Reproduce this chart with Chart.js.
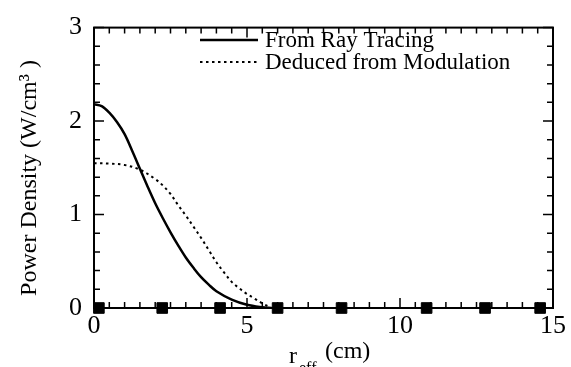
<!DOCTYPE html>
<html>
<head>
<meta charset="utf-8">
<script src="https://cdn.jsdelivr.net/npm/chart.js@4/dist/chart.umd.min.js"></script>
<style>
  body { margin: 0; background: #fff; }
  #wrap { width: 571px; height: 367px; }
</style>
</head>
<body>
<div id="wrap"><canvas id="power_chart" width="571" height="367"></canvas></div>
<script>
// radius (cm) and power density (W/cm^3)
const rRay = [0, 0.25, 0.5, 0.75, 1.0, 1.25, 1.5, 1.75, 2.0, 2.25, 2.5, 2.75, 3.0, 3.25, 3.5, 3.75, 4.0, 4.5, 5.0, 5.5, 5.8];
const pRay = [2.18, 2.16, 2.09, 1.99, 1.86, 1.68, 1.49, 1.30, 1.12, 0.96, 0.81, 0.67, 0.54, 0.43, 0.33, 0.25, 0.18, 0.09, 0.035, 0.008, 0];

const rMod = [0, 0.5, 1.0, 1.5, 2.0, 2.25, 2.5, 2.75, 3.0, 3.25, 3.5, 3.75, 4.0, 4.25, 4.5, 4.75, 5.0, 5.25, 5.5, 5.8];
const pMod = [1.55, 1.545, 1.53, 1.48, 1.38, 1.31, 1.22, 1.10, 0.99, 0.87, 0.75, 0.62, 0.49, 0.38, 0.28, 0.21, 0.15, 0.10, 0.05, 0];

// square markers sitting on the axis
const markerR = [0.16, 2.23, 4.12, 6.0, 8.09, 10.87, 12.78, 14.58];
const markerP = [0, 0, 0, 0, 0, 0, 0, 0];

const xTicks = [0, 5, 10, 15];
const yTicks = [0, 1, 2, 3];

const legendLabels = ['From Ray Tracing', 'Deduced from Modulation'];
const yTitle = 'Power Density (W/cm\u00b3 )';

const serif = "'Liberation Serif', 'Times New Roman', serif";

function toPoints(xs, ys) {
  return xs.map((x, i) => ({ x: x, y: ys[i] }));
}

// inward ticks on all four sides + closed frame
const frameTicks = {
  id: 'frameTicks',
  afterDatasetsDraw(chart) {
    const { ctx, chartArea: a, scales: { x, y } } = chart;
    ctx.save();
    ctx.strokeStyle = '#000';
    ctx.lineWidth = 2;
    ctx.strokeRect(a.left, a.top, a.right - a.left, a.bottom - a.top);
    ctx.lineWidth = 1.5;
    ctx.beginPath();
    for (let i = 0; i <= 30; i++) {
      const v = i * 0.5;
      const len = (i % 10 === 0) ? 10 : 6;
      const px = x.getPixelForValue(v);
      ctx.moveTo(px, a.bottom); ctx.lineTo(px, a.bottom - len);
      ctx.moveTo(px, a.top); ctx.lineTo(px, a.top + len);
    }
    for (let i = 0; i <= 15; i++) {
      const v = i * 0.2;
      const len = (i % 5 === 0) ? 10 : 6;
      const py = y.getPixelForValue(v);
      ctx.moveTo(a.left, py); ctx.lineTo(a.left + len, py);
      ctx.moveTo(a.right, py); ctx.lineTo(a.right - len, py);
    }
    ctx.stroke();
    ctx.restore();
  }
};

// legend inside the plot, axis titles (x title has a subscript)
const annotations = {
  id: 'annotations',
  afterDraw(chart) {
    const ctx = chart.ctx;
    ctx.save();
    ctx.fillStyle = '#000';
    ctx.strokeStyle = '#000';
    ctx.textBaseline = 'middle';
    ctx.font = '23px ' + serif;

    ctx.lineWidth = 2.5;
    ctx.beginPath(); ctx.moveTo(200, 40); ctx.lineTo(258, 40); ctx.stroke();
    ctx.fillText(legendLabels[0], 265, 41);

    ctx.lineWidth = 2;
    ctx.setLineDash([2.5, 3.5]);
    ctx.beginPath(); ctx.moveTo(200, 62); ctx.lineTo(258, 62); ctx.stroke();
    ctx.setLineDash([]);
    ctx.fillText(legendLabels[1], 265, 63);

    ctx.textBaseline = 'alphabetic';
    ctx.font = '24px ' + serif;
    ctx.fillText('r', 289, 363);
    ctx.font = '16px ' + serif;
    ctx.fillText('eff', 299, 373);
    ctx.font = '24px ' + serif;
    ctx.fillText('(cm)', 325, 358);

    ctx.translate(36, 178);
    ctx.rotate(-Math.PI / 2);
    ctx.textAlign = 'center';
    ctx.font = '24px ' + serif;
    ctx.fillText(yTitle, 0, 0);
    ctx.restore();
  }
};

new Chart(document.getElementById('power_chart').getContext('2d'), {
  type: 'line',
  data: {
    datasets: [{
      label: legendLabels[0],
      data: toPoints(rRay, pRay),
      borderColor: '#000',
      borderWidth: 2.5,
      pointRadius: 0,
      tension: 0.35
    }, {
      label: legendLabels[1],
      data: toPoints(rMod, pMod),
      borderColor: '#000',
      borderWidth: 2,
      borderDash: [2.5, 3.5],
      pointRadius: 0,
      tension: 0.35
    }, {
      type: 'scatter',
      label: 'markers',
      data: toPoints(markerR, markerP),
      pointStyle: 'rect',
      pointRadius: 7.5,
      backgroundColor: '#000',
      borderColor: '#000',
      clip: false
    }]
  },
  options: {
    responsive: false,
    animation: false,
    devicePixelRatio: 1,
    layout: { padding: { top: 24, right: 18, left: 0, bottom: 0 } },
    plugins: {
      legend: { display: false },
      tooltip: { enabled: false }
    },
    scales: {
      x: {
        type: 'linear',
        min: 0,
        max: 15,
        grid: { display: false, drawTicks: false },
        border: { display: false },
        afterBuildTicks: (s) => { s.ticks = xTicks.map(v => ({ value: v })); },
        ticks: { color: '#000', padding: 3, maxRotation: 0, font: { family: serif, size: 26 } },
        afterFit: (s) => { s.height = 59; }
      },
      y: {
        min: 0,
        max: 3,
        grid: { display: false, drawTicks: false },
        border: { display: false },
        afterBuildTicks: (s) => { s.ticks = yTicks.map(v => ({ value: v })); },
        ticks: { color: '#000', padding: 12, font: { family: serif, size: 26 } },
        afterFit: (s) => { s.width = 94; }
      }
    }
  },
  plugins: [frameTicks, annotations]
});
</script>
</body>
</html>
